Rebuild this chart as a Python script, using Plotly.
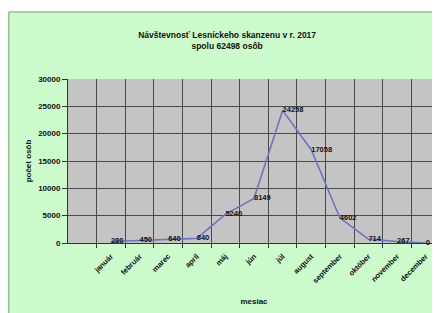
import plotly.graph_objects as go

months = ["január", "február", "marec", "apríl", "máj", "jún", "júl",
          "august", "september", "október", "november", "december"]
visitors = [280, 450, 640, 840, 5240, 8149, 24258, 17058, 4602, 714, 267, 0]
y_ticks = [0, 5000, 10000, 15000, 20000, 25000, 30000]

title_text = "Návštevnosť Lesníckeho skanzenu v r. 2017<br>spolu 62498 osôb"

BOLD = dict(family="Arial", color="#111111", weight="bold")

fig = go.Figure()
fig.add_trace(go.Scatter(
    x=months, y=visitors, mode="lines+text",
    text=[str(v) for v in visitors], textposition="middle right",
    textfont=dict(BOLD, size=7.5),
    line=dict(color="#7272c2", width=1.6),
    cliponaxis=False, showlegend=False,
))

# page body has an 8px margin, so the figure is laid out 8px up/left
fig.update_layout(
    width=440, height=313,
    margin=dict(l=60, r=8, t=71, b=78),
    paper_bgcolor="white",
    plot_bgcolor="#c4c4c4",
    font=dict(family="Arial", color="#111111"),
    title=dict(text=title_text, xref="container", yref="container",
               x=0.498, y=0.905, xanchor="center", yanchor="middle",
               font=dict(BOLD, size=8.5)),
    shapes=[
        dict(type="rect", xref="paper", yref="paper", x0=-0.159, x1=1.05,
             y0=-0.6, y1=1.409, fillcolor="#ccfccc",
             line=dict(color="#6f9f6f", width=1), layer="below"),
        dict(type="rect", xref="paper", yref="paper", x0=0, x1=1, y0=0, y1=1,
             fillcolor="#c4c4c4", line=dict(width=0), layer="below"),
    ],
)

fig.update_xaxes(
    type="category", categoryorder="array", categoryarray=months,
    range=[-1.5, 11.5], tickson="boundaries", automargin=False,
    showgrid=True, gridcolor="#4a4a4a", gridwidth=1,
    showline=True, linecolor="#333333", linewidth=1,
    ticks="outside", ticklen=4, tickcolor="#333333",
    tickangle=-45, tickfont=dict(BOLD, size=7.5), ticklabelstandoff=5,
    title=dict(text="mesiac", font=dict(BOLD, size=8), standoff=14),
)
fig.update_yaxes(
    range=[0, 30000], tickvals=y_ticks, tickformat="d", automargin=False,
    showgrid=True, gridcolor="#4a4a4a", gridwidth=1,
    showline=True, linecolor="#333333", linewidth=1,
    ticks="outside", ticklen=5, tickcolor="#333333",
    tickfont=dict(BOLD, size=8),
    title=dict(text="počet osôb", font=dict(BOLD, size=8), standoff=5),
    zeroline=False,
)

fig.write_html("out.html")
